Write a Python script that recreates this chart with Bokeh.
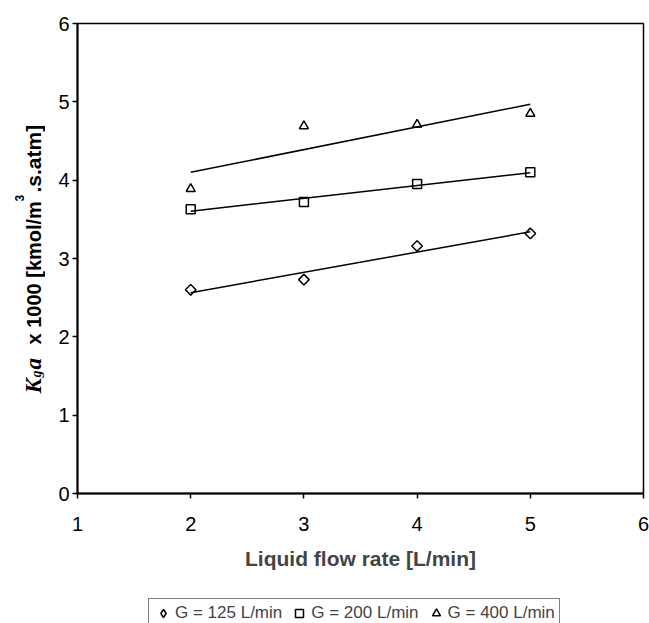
import numpy as np
from bokeh.plotting import figure
from bokeh.models import Range1d, Legend, LegendItem, Label, FixedTicker
from bokeh.layouts import column, row
from bokeh.embed import file_html
from bokeh.resources import INLINE

# ---- data ----
liquid_flow = [2, 3, 4, 5]
kga_g125 = [2.60, 2.73, 3.16, 3.32]
kga_g200 = [3.63, 3.72, 3.95, 4.10]
kga_g400 = [3.89, 4.69, 4.71, 4.85]
series_labels = ["G = 125 L/min", "G = 200 L/min", "G = 400 L/min"]
x_ticks = [1, 2, 3, 4, 5, 6]
y_ticks = [0, 1, 2, 3, 4, 5, 6]
x_title = "Liquid flow rate [L/min]"

FONT = "Liberation Sans"
SERIF = "Liberation Serif"

TITLE_W = 45
MAIN_H = 580
LEG_H = 623 - MAIN_H
FRAME_TOP, FRAME_BOTTOM = 23, 493

# ---- main plot ----
p = figure(width=649 - TITLE_W, height=MAIN_H, output_backend="svg", toolbar_location=None,
           x_range=Range1d(1, 6), y_range=Range1d(0, 6),
           min_border_left=77 - TITLE_W, min_border_right=6, min_border_top=FRAME_TOP,
           min_border_bottom=MAIN_H - FRAME_BOTTOM)
p.grid.visible = False
p.outline_line_color = "black"
p.outline_line_width = 1.5
p.background_fill_color = "white"
p.border_fill_color = "white"

for ax in (p.xaxis[0], p.yaxis[0]):
    ax.axis_line_width = 2
    ax.axis_line_color = "black"
    ax.major_tick_in = 0
    ax.major_tick_out = 5
    ax.major_tick_line_width = 1.5
    ax.minor_tick_line_color = None
    ax.major_label_text_font = FONT
    ax.major_label_text_font_size = "20px"
    ax.major_label_text_color = "black"

p.xaxis.ticker = FixedTicker(ticks=x_ticks)
p.yaxis.ticker = FixedTicker(ticks=y_ticks)
p.xaxis.major_label_standoff = 18
p.yaxis.major_label_standoff = 3
p.xaxis.axis_label = x_title
p.xaxis.axis_label_text_font = FONT
p.xaxis.axis_label_text_font_style = "bold"
p.xaxis.axis_label_text_font_size = "21px"
p.xaxis.axis_label_standoff = 13

markers = [("square", np.pi / 4, 7.5), ("square", 0, 9), ("triangle", 0, 9)]
legend_markers = ["diamond", "square", "triangle"]
series = [kga_g125, kga_g200, kga_g400]
for ys, (mk, ang, sz) in zip(series, markers):
    slope, icpt = np.polyfit(liquid_flow, ys, 1)
    xs_fit = [min(liquid_flow), max(liquid_flow)]
    p.line(xs_fit, [slope * x + icpt for x in xs_fit], line_color="black", line_width=1.5)
    p.scatter(liquid_flow, ys, marker=mk, angle=ang, size=sz,
              fill_color=None, line_color="black", line_width=1.5)

# ---- y-axis title panel (frame aligned with main frame, 1 data unit = 1 px) ----
t = figure(width=TITLE_W, height=MAIN_H, output_backend="svg", toolbar_location=None,
           x_range=Range1d(0, TITLE_W),
           y_range=Range1d(MAIN_H - FRAME_BOTTOM, MAIN_H - FRAME_TOP),
           x_axis_location=None, y_axis_location=None, min_border=0,
           min_border_top=FRAME_TOP, min_border_bottom=MAIN_H - FRAME_BOTTOM,
           outline_line_color=None, background_fill_color="white", border_fill_color="white")
t.grid.visible = False

segments = [
    ("K", 393, 33, SERIF, "bold italic", "23px"),
    ("g", 377, 36, SERIF, "bold italic", "14px"),
    ("a", 369, 33, SERIF, "bold italic", "23px"),
    ("x 1000 [kmol/m", 344, 33, FONT, "bold", "20px"),
    ("3", 201, 19, FONT, "bold", "12px"),
    (".s.atm]", 192, 33, FONT, "bold", "21px"),
]
for txt, py, px, fnt, sty, fs in segments:
    t.add_layout(Label(x=px, y=MAIN_H - py, text=txt, angle=np.pi / 2,
                       text_align="left", text_baseline="alphabetic",
                       text_font=fnt, text_font_style=sty, text_font_size=fs,
                       text_color="black"))

# ---- legend panel ----
lg = figure(width=649, height=LEG_H, output_backend="svg", toolbar_location=None,
            x_range=Range1d(-20, -19), y_range=Range1d(-20, -19),
            x_axis_location=None, y_axis_location=None, min_border=0,
            outline_line_color=None, background_fill_color="white", border_fill_color="white")
lg.grid.visible = False
leg_rs = []
for ys, mk in zip(series, legend_markers):
    leg_rs.append(lg.scatter(liquid_flow, ys, marker=mk, size=8,
                             fill_color=None, line_color="black", line_width=1.5))

legend = Legend(items=[LegendItem(label=lab, renderers=[r]) for lab, r in zip(series_labels, leg_rs)],
                orientation="horizontal", location=(148, -5),
                border_line_color="black", border_line_width=1,
                label_text_font=FONT, label_text_font_size="17px",
                glyph_width=20, glyph_height=20, spacing=7, padding=4,
                label_standoff=2, margin=0)
lg.add_layout(legend, "center")

layout = column(row(t, p), lg)
open("out.html", "w").write(file_html(layout, INLINE))
